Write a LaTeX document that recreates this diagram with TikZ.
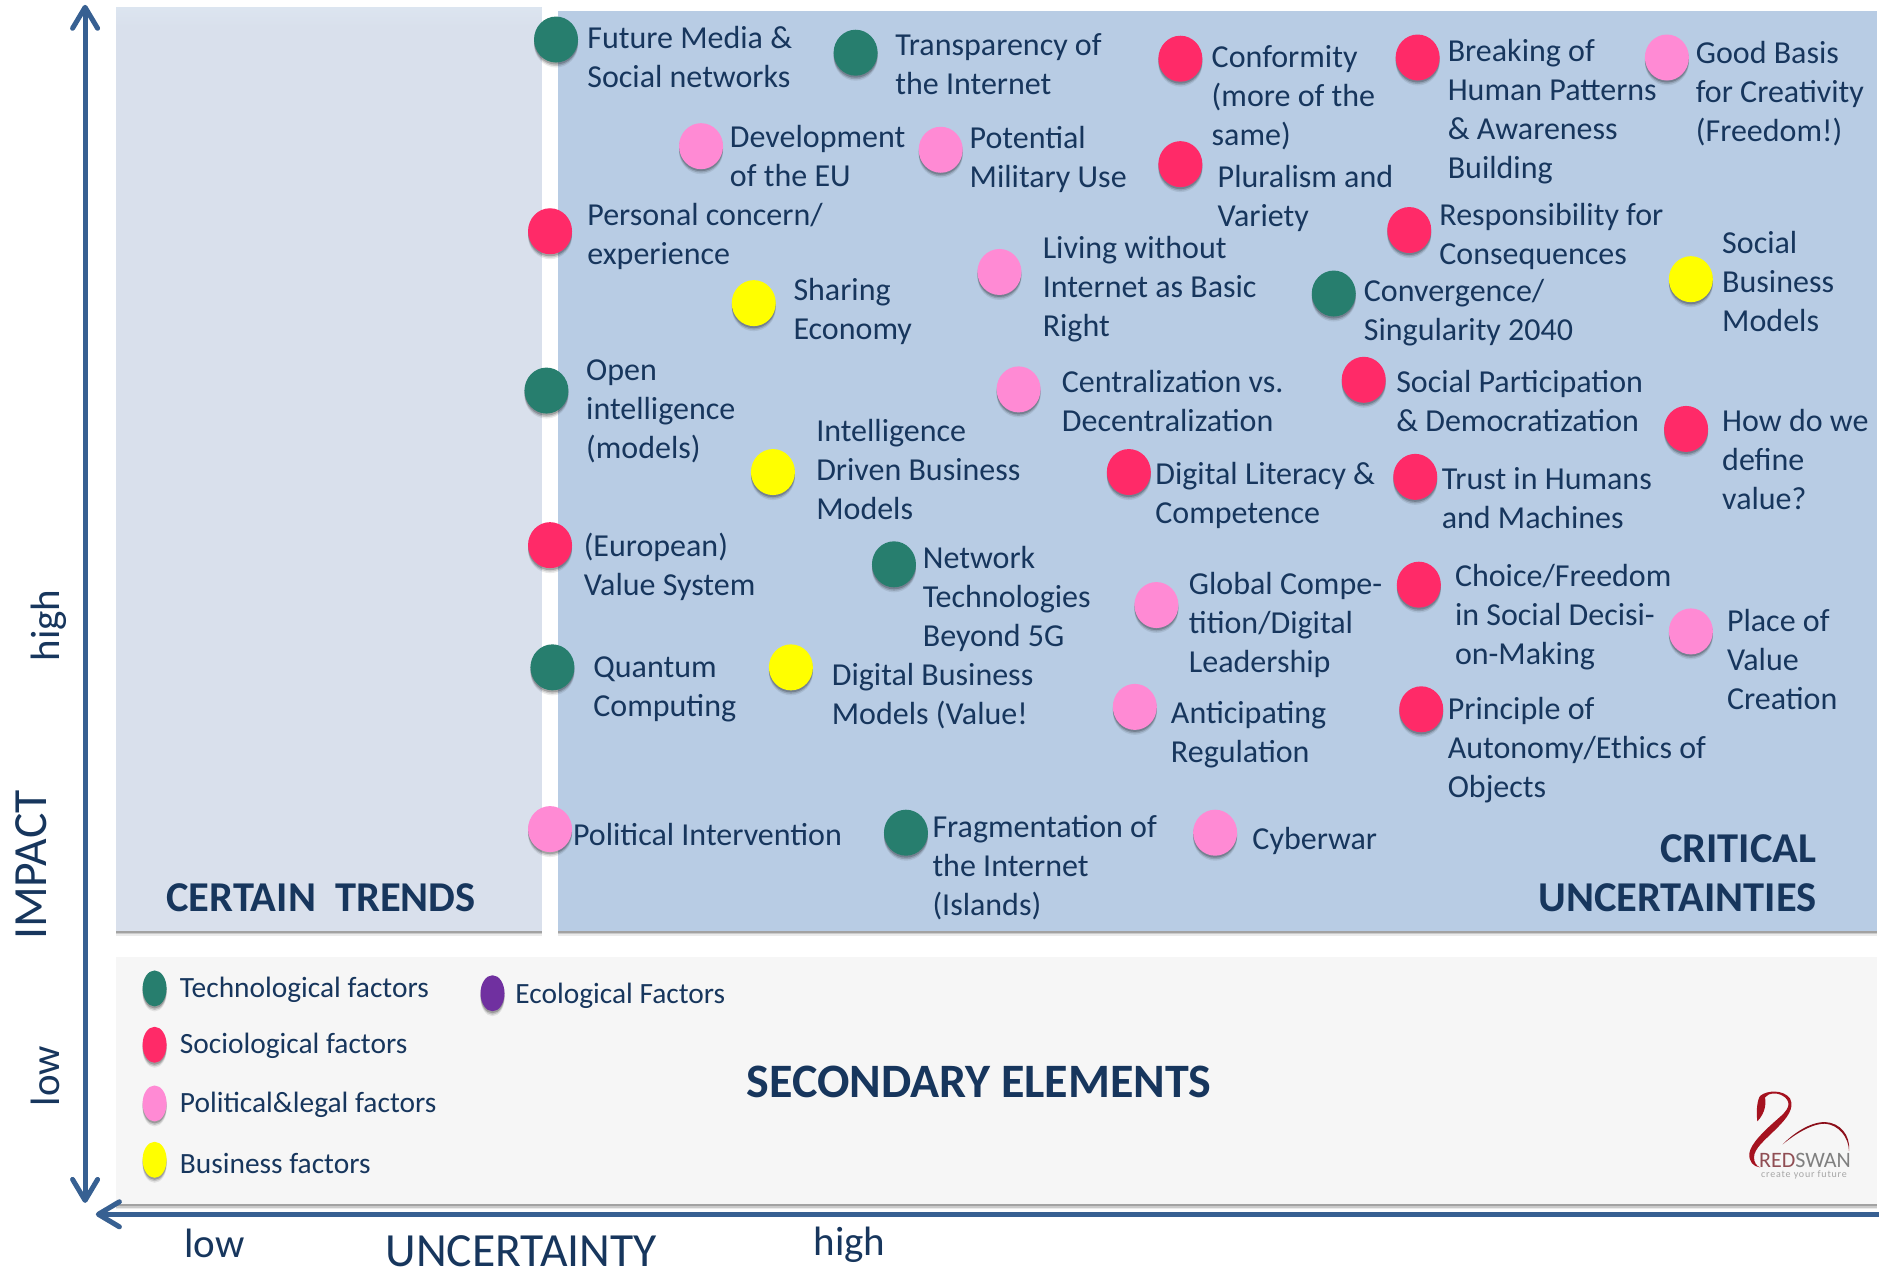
\documentclass[tikz,border=0pt]{standalone}
\usepackage{fontspec}
\setmainfont{Carlito}
\usetikzlibrary{shapes.geometric,shadows,arrows.meta}
\definecolor{ink}{HTML}{17365D}
\definecolor{axisblue}{HTML}{376092}
\definecolor{tealf}{HTML}{277E6E}
\definecolor{redf}{HTML}{FF2A68}
\definecolor{pinkf}{HTML}{FF8AD4}
\definecolor{yelf}{HTML}{FFFF00}
\definecolor{purf}{HTML}{7030A0}
\definecolor{certainc}{HTML}{D9E0EC}
\definecolor{certaintop}{HTML}{DCE5F0}
\definecolor{criticalc}{HTML}{B8CCE4}
\definecolor{secondc}{HTML}{F6F6F6}
\definecolor{swanred}{HTML}{A5121F}
\tikzset{
  softshadow/.style={
    drop shadow={shadow xshift=0pt,shadow yshift=-5pt,fill=black,opacity=.08},
    drop shadow={shadow xshift=0pt,shadow yshift=-3.5pt,fill=black,opacity=.14},
    drop shadow={shadow xshift=0pt,shadow yshift=-2pt,fill=black,opacity=.2}},
  bubble/.style={ellipse,draw=none,minimum width=44pt,minimum height=46pt,inner sep=0pt,softshadow},
  keydot/.style={ellipse,draw=none,minimum width=24pt,minimum height=36pt,inner sep=0pt,softshadow},
  lab/.style={anchor=west,align=left,inner sep=0pt,text=ink,yshift=-1.5pt,font=\fontsize{32}{39}\selectfont},
  keylab/.style={anchor=west,inner sep=0pt,text=ink,yshift=-2.7pt,font=\fontsize{29.4}{33}\selectfont},
  head/.style={inner sep=0pt,text=ink,font=\fontsize{42.5}{49}\selectfont\bfseries},
  headbig/.style={inner sep=0pt,text=ink,font=\fontsize{48}{52}\selectfont\bfseries},
  axlab/.style={inner sep=0pt,text=ink,font=\fontsize{41}{48}\selectfont},
  axlabbig/.style={inner sep=0pt,text=ink,font=\fontsize{47.6}{52}\selectfont},
  panel/.style={draw=none,softshadow},
  barbs/.style={line width=5pt,line cap=round,{Straight Barb[length=21pt,width=25pt,round]}-{Straight Barb[length=21pt,width=25pt,round]}},
  axis/.style={draw=axisblue,line width=5pt,-{Straight Barb[length=21pt,width=25pt,round]}},
  axisshadow/.style={draw=black,opacity=.16,line width=5pt,yshift=-3.5pt,-{Straight Barb[length=21pt,width=25pt,round]}},
}
\newcommand{\factor}[7]{%
  \node[bubble,fill=#4] (b#1) at (#2,#3) {};
  \node[lab] (t#1) at (#5,#6) {#7};
}
\begin{document}
\begin{tikzpicture}[x=1.19834pt,y=-1.19811pt]
\useasboundingbox (0,0) rectangle (1568,1060);
% panels
\path[panel,fill=certainc] (97,6) rectangle (452,777);
\shade[top color=certaintop,bottom color=certainc] (97,6) rectangle (452,22);
\path[panel,fill=criticalc] (466,9) rectangle (1566,777);
\path[panel,fill=secondc] (97,799) rectangle (1566,1005);
% axes
\coordinate (vtop) at (71,4);
\coordinate (vbot) at (71,1004);
\coordinate (hleft) at (80,1013.5);
\coordinate (hright) at (1568,1013.5);
\draw[axisshadow] (hright) -- (hleft);
\draw[axis] (hright) -- (hleft);
\draw[draw=axisblue,barbs] (vbot) -- (vtop);
% factors
\factor{a}{464}{33}{tealf}{490}{46.5}{Future Media \&\\Social networks}
\factor{b}{714}{44}{tealf}{747}{52.5}{Transparency of\\the Internet}
\factor{c}{985}{49}{redf}{1011}{80}{Conformity\\(more of the\\same)}
\factor{d}{1183}{48}{redf}{1208}{92}{Breaking of\\Human Patterns\\\& Awareness\\Building}
\factor{e}{1391}{48}{pinkf}{1415}{76.5}{Good Basis\\for Creativity\\(Freedom!)}
\factor{f}{585}{122}{pinkf}{609}{129}{Development\\of the EU}
\factor{g}{785}{125}{pinkf}{809}{132}{Potential\\Military Use}
\factor{h}{985}{137}{redf}{1016}{164.5}{Pluralism and\\Variety}
\factor{i}{459}{193}{redf}{490}{196}{Personal concern/\\experience}
\factor{j}{1176}{192}{redf}{1201}{196.5}{Responsibility for\\Consequences}
\factor{k}{834}{227}{pinkf}{870}{240}{Living without\\Internet as Basic\\Right}
\factor{l}{629}{253}{yelf}{662}{259}{Sharing\\Economy}
\factor{m}{1113}{245}{tealf}{1138}{260}{Convergence/\\Singularity 2040}
\factor{n}{1411}{233}{yelf}{1437}{233.5}{Social\\Business\\Models}
\factor{o}{456}{326}{tealf}{489}{342}{Open\\intelligence\\(models)}
\factor{p}{850}{325}{pinkf}{886}{333.5}{Centralization vs.\\Decentralization}
\factor{q}{1138}{317}{redf}{1165}{333.5}{Social Participation\\\& Democratization}
\factor{r}{1407}{358}{redf}{1437}{382}{How do we\\define\\value?}
\factor{s}{645}{394}{yelf}{681}{391}{Intelligence\\Driven Business\\Models}
\factor{t}{942}{394}{redf}{964}{412}{Digital Literacy \&\\Competence}
\factor{u}{1181}{398}{redf}{1203}{414.5}{Trust in Humans\\and Machines}
\factor{v}{459}{455}{redf}{487}{471.5}{(European)\\Value System}
\factor{w}{746}{471}{tealf}{770}{499}{Network\\Technologies\\Beyond 5G}
\factor{x}{965}{505}{pinkf}{992}{520.5}{Global Compe-\\tition/Digital\\Leadership}
\factor{y}{1184}{488}{redf}{1214}{514}{Choice/Freedom\\in Social Decisi-\\on-Making}
\factor{z}{1411}{527}{pinkf}{1441}{549.5}{Place of\\Value\\Creation}
\factor{aa}{461}{557}{tealf}{495}{574.5}{Quantum\\Computing}
\factor{ab}{660}{557}{yelf}{694}{580}{Digital Business\\Models (Value!}
\factor{ac}{947}{590}{pinkf}{977}{612}{Anticipating\\Regulation}
\factor{ad}{1186}{592}{redf}{1208}{625}{Principle of\\Autonomy/Ethics of\\Objects}
\factor{ae}{459}{692}{pinkf}{478}{695}{Political Intervention}
\factor{af}{756}{695}{tealf}{778}{723}{Fragmentation of\\the Internet\\(Islands)}
\factor{ag}{1014}{695}{pinkf}{1045}{701}{Cyberwar}
% headings
\node[head] (hcertain) at (268,749) {CERTAIN\ \ TRENDS};
\node[head,align=right,anchor=east] (hcritical) at (1516,728.5) {CRITICAL\\UNCERTAINTIES};
\node[headbig] (hsecond) at (817,903) {SECONDARY ELEMENTS};
% legend
\node[keydot,fill=tealf] (k1) at (129,825) {};
\node[keylab] (k1t) at (150,824) {Technological factors};
\node[keydot,fill=redf] (k2) at (129,872) {};
\node[keylab] (k2t) at (150,871) {Sociological factors};
\node[keydot,fill=pinkf] (k3) at (129,921) {};
\node[keylab] (k3t) at (150,920) {Political\&legal factors};
\node[keydot,fill=yelf] (k4) at (129,968) {};
\node[keylab] (k4t) at (150,969) {Business factors};
\node[keydot,fill=purf] (k5) at (411,829) {};
\node[keylab] (k5t) at (430,829) {Ecological Factors};
% axis labels
\node[axlabbig,rotate=90] (limpact) at (26,722) {IMPACT};
\node[axlab,rotate=90] (lhigh) at (41,522) {high};
\node[axlab,rotate=90] (llow) at (38,898) {low};
\node[axlab] (xlow) at (179,1038) {low};
\node[axlabbig] (xunc) at (435,1044.5) {UNCERTAINTY};
\node[axlab] (xhigh) at (709,1039) {high};
% logo
\begin{scope}[shift={(1376.9,876.4)},x=0.33333pt,y=-0.33333pt]
  \fill[swanred] (322,214) .. controls (318,180) and (322,150) .. (330,138)
    .. controls (350,120) and (400,118) .. (420,145)
    .. controls (435,175) and (410,205) .. (380,235)
    .. controls (345,270) and (312,295) .. (312,322)
    .. controls (312,338) and (320,348) .. (330,352)
    .. controls (310,350) and (296,335) .. (298,310)
    .. controls (302,280) and (345,240) .. (385,205)
    .. controls (415,180) and (425,160) .. (405,142)
    .. controls (385,125) and (355,128) .. (345,142)
    .. controls (350,170) and (340,195) .. (322,214) -- cycle;
  \fill[swanred!85!black] (398,283) .. controls (440,240) and (490,215) .. (525,216)
    .. controls (570,218) and (602,255) .. (597,303)
    .. controls (596,260) and (565,224) .. (525,221)
    .. controls (490,220) and (440,248) .. (398,283) -- cycle;
  \node[anchor=base west,inner sep=0pt,font=\fontsize{22}{24}\selectfont] (logotext) at (327,352) {\textcolor{swanred!45!gray}{RED}\textcolor{gray}{SWAN}};
  \node[anchor=west,inner sep=0pt,text=gray!70,font=\fontsize{10}{11}\addfontfeature{LetterSpace=8}\selectfont] (logosub) at (333,374) {create your future};
\end{scope}
\end{tikzpicture}
\end{document}
